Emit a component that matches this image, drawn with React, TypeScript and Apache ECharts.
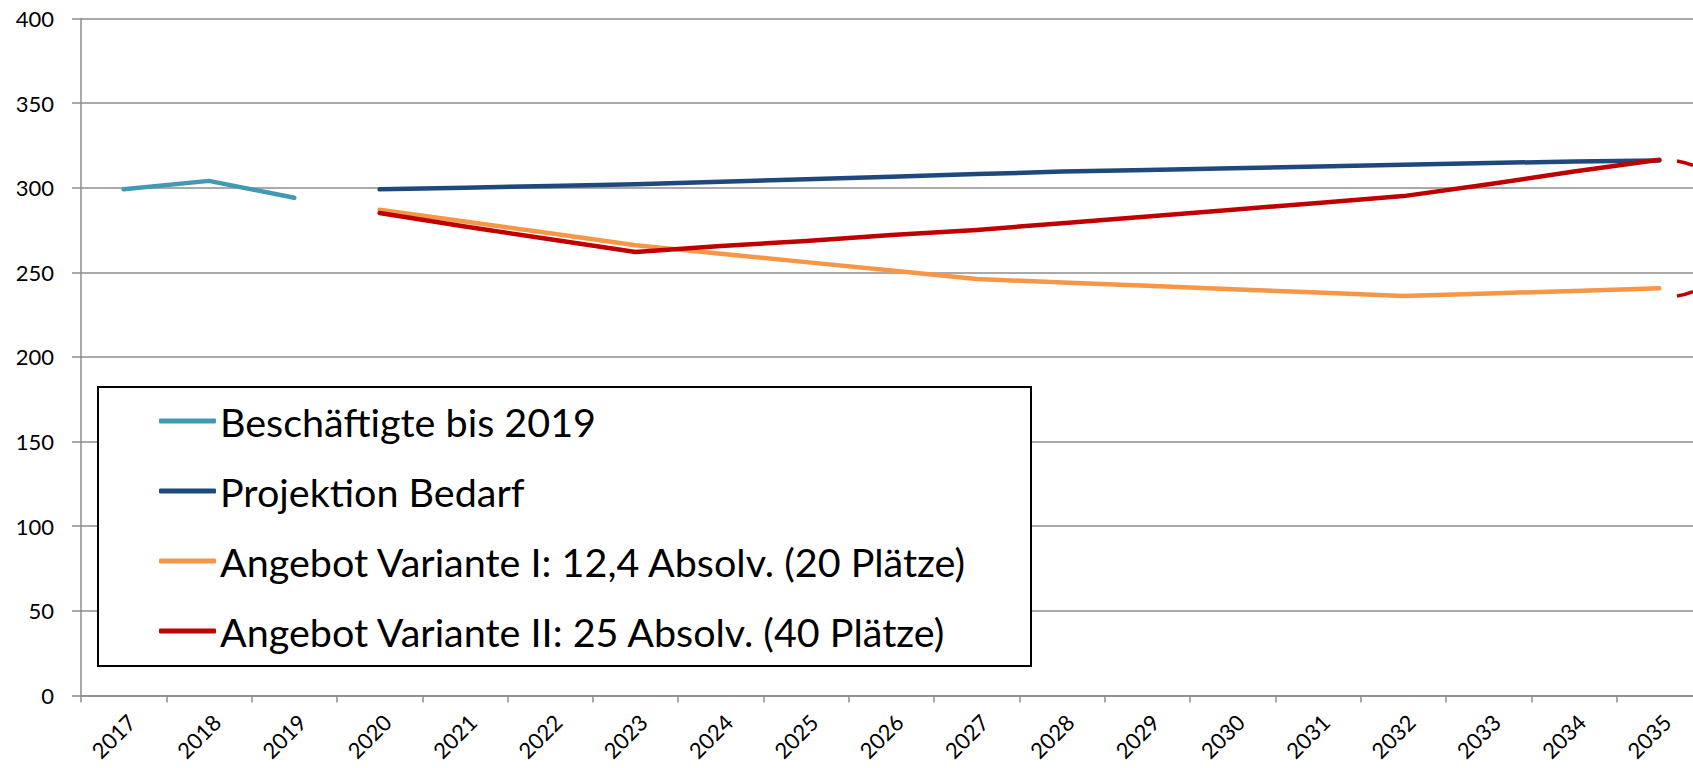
import React, { useEffect, useRef } from "react";
import * as echarts from "echarts";

const years = [
  "2017", "2018", "2019", "2020", "2021", "2022", "2023", "2024", "2025", "2026",
  "2027", "2028", "2029", "2030", "2031", "2032", "2033", "2034", "2035",
];

const seriesNames = [
  "Beschäftigte bis 2019",
  "Projektion Bedarf",
  "Angebot Variante I: 12,4 Absolv. (20 Plätze)",
  "Angebot Variante II: 25 Absolv. (40 Plätze)",
];

const employed = [299, 304, 294, null, null, null, null, null, null, null, null, null, null, null, null, null, null, null, null];
const demand = [null, null, null, 299, 300, 301, 302, 303.5, 305, 306.5, 308, 309.5, 310.5, 311.5, 312.5, 313.5, 314.5, 315.5, 316];
const supplyI = [null, null, null, 287, 280, 273, 266, 261, 256, 251, 246, 244, 242, 240, 238, 236, 237.5, 239, 240.5];
const supplyII = [null, null, null, 285, 277, 269.5, 262, 265.5, 268.5, 272, 275, 279, 283, 287, 291, 295, 302, 309.5, 316.5];

const yTicks = { min: 0, max: 400, interval: 50 };

const colors = ["#4299B4", "#1F497D", "#F79646", "#C00000"];

const FONT = "Lato";

export default function App() {
  const ref = useRef<HTMLDivElement>(null);

  useEffect(() => {
    document.body.style.margin = "0";
    if (!ref.current) return;
    const chart = echarts.init(ref.current, undefined, { renderer: "svg" });
    const data = [employed, demand, supplyI, supplyII];
    const gridColor = "#8C8C8C";
    chart.setOption({
      animation: false,
      backgroundColor: "#ffffff",
      grid: {
        left: 81,
        top: 18.4,
        width: 1621,
        height: 677,
        containLabel: false,
        outerBoundsMode: "none",
      },
      xAxis: {
        type: "category",
        data: years,
        boundaryGap: true,
        axisLine: { show: true, lineStyle: { color: gridColor, width: 1.5 } },
        axisTick: { show: true, length: 7, lineStyle: { color: gridColor, width: 1.5 } },
        axisLabel: {
          rotate: 45,
          interval: 0,
          margin: 15,
          verticalAlign: "top",
          fontSize: 22,
          fontFamily: FONT,
          color: "#000",
        },
        splitLine: { show: false },
      },
      yAxis: {
        type: "value",
        min: yTicks.min,
        max: yTicks.max,
        interval: yTicks.interval,
        axisLine: { show: true, lineStyle: { color: gridColor, width: 1.5 } },
        axisTick: { show: true, length: 9, lineStyle: { color: gridColor, width: 1.5 } },
        axisLabel: { margin: 27, fontSize: 22, fontFamily: FONT, color: "#000" },
        splitLine: { show: true, lineStyle: { color: gridColor, width: 1.5 } },
      },
      legend: {
        orient: "vertical",
        left: 159,
        top: 401,
        padding: 0,
        itemGap: 30,
        itemWidth: 57,
        itemHeight: 5,
        icon: "roundRect",
        z: 10,
        data: seriesNames,
        textStyle: { fontSize: 39.5, fontFamily: FONT, color: "#000", lineHeight: 40, padding: [0, 0, 0, -1] },
      },
      graphic: [
        {
          type: "rect",
          z: 5,
          shape: { x: 98, y: 387, width: 933, height: 279 },
          style: { fill: "#ffffff", stroke: "#000000", lineWidth: 2 },
        },
        {
          type: "bezierCurve",
          z: 5,
          shape: { x1: 1677, y1: 161, x2: 1693, y2: 165.5, cpx1: 1683, cpy1: 162, cpx2: 1688, cpy2: 163.5 },
          style: { stroke: "#C00000", lineWidth: 3.5, fill: "none" },
        },
        {
          type: "bezierCurve",
          z: 5,
          shape: { x1: 1677, y1: 296, x2: 1693, y2: 291.5, cpx1: 1683, cpy1: 295, cpx2: 1688, cpy2: 293.5 },
          style: { stroke: "#C00000", lineWidth: 3.5, fill: "none" },
        },
      ],
      series: data.map((d, i) => ({
        name: seriesNames[i],
        type: "line",
        data: d,
        symbol: "none",
        showSymbol: false,
        connectNulls: false,
        color: colors[i],
        lineStyle: { color: colors[i], width: 4.5, cap: "round", join: "round" },
        itemStyle: { color: colors[i] },
        z: 2 + i,
      })),
    });
    return () => chart.dispose();
  }, []);

  return <div ref={ref} style={{ width: 1693, height: 768 }} />;
}
